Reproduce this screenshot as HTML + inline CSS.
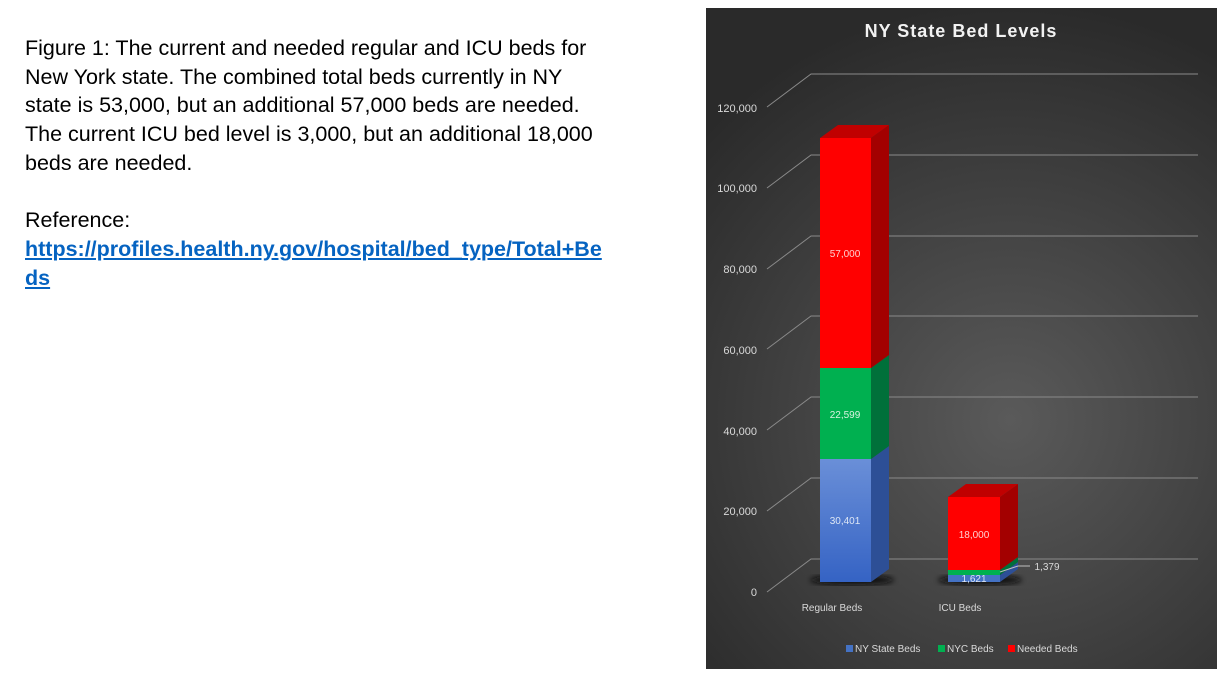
<!DOCTYPE html>
<html><head><meta charset="utf-8"><style>
body{margin:0;width:1225px;height:679px;background:#fff;position:relative;overflow:hidden;font-family:"Liberation Sans",sans-serif}
#txt{position:absolute;left:25px;top:34px;white-space:nowrap;font-size:21.5px;line-height:28.7px;color:#000;font-family:"Liberation Sans",sans-serif}
#txt a{color:#0563C1;font-weight:bold;text-decoration:underline}
#chart{position:absolute;left:706px;top:8px}
</style></head><body>
<div id="txt">Figure 1: The current and needed regular and ICU beds for<br>New York state. The combined total beds currently in NY<br>state is 53,000, but an additional 57,000 beds are needed.<br>The current ICU bed level is 3,000, but an additional 18,000<br>beds are needed.<br><br>Reference:<br><a>https://profiles.health.ny.gov/hospital/bed_type/Total+Be<br>ds</a></div>
<svg id="chart" width="511" height="661" viewBox="706 8 511 661" xmlns="http://www.w3.org/2000/svg" font-family="Liberation Sans, sans-serif">
<defs>
<radialGradient id="bg" cx="1010" cy="420" r="420" gradientUnits="userSpaceOnUse">
<stop offset="0" stop-color="#5a5a5a"/><stop offset="1" stop-color="#2a2a2a"/></radialGradient>
<linearGradient id="bl" x1="0" y1="0" x2="0" y2="1"><stop offset="0" stop-color="#6a8fd8"/><stop offset="1" stop-color="#3563c4"/></linearGradient>
<filter id="sh"><feGaussianBlur stdDeviation="3"/></filter>
</defs>
<rect x="706" y="8" width="511" height="661" fill="url(#bg)"/>
<text x="961" y="37" fill="#f2f2f2" font-size="18" font-weight="bold" text-anchor="middle" letter-spacing="1">NY State Bed Levels</text>
<g stroke="#8a8a8a" stroke-width="1" fill="none">
<path d="M767 107L811 74H1198M767 188L811 155H1198M767 269L811 236H1198M767 349L811 316H1198M767 430L811 397H1198M767 511L811 478H1198M767 592L811 559H1198"/>
</g>
<g fill="#d9d9d9" font-size="11" text-anchor="end">
<text x="757" y="112">120,000</text><text x="757" y="192">100,000</text><text x="757" y="273">80,000</text><text x="757" y="354">60,000</text><text x="757" y="435">40,000</text><text x="757" y="515">20,000</text><text x="757" y="596">0</text>
</g>
<ellipse cx="852" cy="580" rx="42" ry="5" fill="#111" filter="url(#sh)"/>
<ellipse cx="980" cy="580" rx="42" ry="5" fill="#111" filter="url(#sh)"/>
<polygon points="871,582 889,569 889,446 871,459" fill="#2d4f96"/>
<polygon points="871,459 889,446 889,355 871,368" fill="#00703a"/>
<polygon points="871,368 889,355 889,125 871,138" fill="#a30000"/>
<polygon points="820,138 838,125 889,125 871,138" fill="#c00000"/>
<rect x="820" y="459" width="51" height="123" fill="url(#bl)"/>
<rect x="820" y="368" width="51" height="91" fill="#00b050"/>
<rect x="820" y="138" width="51" height="230" fill="#ff0000"/>
<polygon points="1000,582 1018,569 1018,562 1000,575" fill="#2d4f96"/>
<polygon points="1000,575 1018,562 1018,557 1000,570" fill="#00703a"/>
<polygon points="1000,570 1018,557 1018,484 1000,497" fill="#a30000"/>
<polygon points="948,497 966,484 1018,484 1000,497" fill="#c00000"/>
<rect x="948" y="575" width="52" height="7" fill="#4472c4"/>
<rect x="948" y="570" width="52" height="5" fill="#00b050"/>
<rect x="948" y="497" width="52" height="73" fill="#ff0000"/>
<path d="M1000 572L1018 566H1030" stroke="#bfbfbf" fill="none"/>
<g font-size="10" text-anchor="middle">
<text x="845" y="257" fill="#ffd0d0">57,000</text>
<text x="845" y="418" fill="#d9f2e0">22,599</text>
<text x="845" y="524" fill="#dde6f5">30,401</text>
<text x="974" y="538" fill="#ffd0d0">18,000</text>
<text x="974" y="582" fill="#dde6f5">1,621</text>
<text x="1047" y="570" fill="#d9d9d9">1,379</text>
<text x="832" y="611" fill="#d9d9d9">Regular  Beds</text>
<text x="960" y="611" fill="#d9d9d9">ICU Beds</text>
</g>
<g font-size="10" fill="#d9d9d9">
<rect x="846" y="645" width="7" height="7" fill="#4472c4"/><text x="855" y="652">NY State Beds</text>
<rect x="938" y="645" width="7" height="7" fill="#00b050"/><text x="947" y="652">NYC Beds</text>
<rect x="1008" y="645" width="7" height="7" fill="#ff0000"/><text x="1017" y="652">Needed Beds</text>
</g>
</svg>
</body></html>
